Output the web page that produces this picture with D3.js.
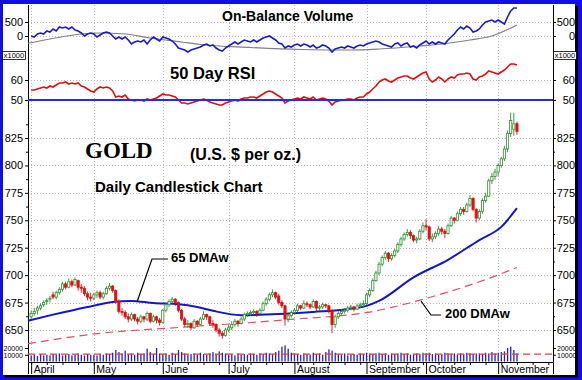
<!DOCTYPE html>
<html><head><meta charset="utf-8">
<script src="https://cdn.jsdelivr.net/npm/d3@7"></script>
<style>body{margin:0;background:#fff}svg{display:block}</style>
</head><body><svg id="c" width="582" height="380" font-family="Arial, 'Liberation Sans', sans-serif"></svg>
<script>
// ---------- DATA ----------
const months = ["April","May","June","July","August","September","October","November"];
const monthStart = [0,20,42,63,84,107,126,149];
const priceTicks = [650,675,700,725,750,775,800,825];
const obvTicks = [0,500];
const rsiTicks = [50,60];
const volTicks = [10,20];
// [open, high, low, close]
const ohlc = [
[662,668,660,665],[665,670,663,667],[668,672,664,670],[670,674,668,672],[673,677,671,675],
[676,679,673,677],[678,681,675,679],[682,685,678,680],[680,686,678,684],[684,689,682,687],
[687,694,685,692],[692,694,687,689],[689,697,688,694],[694,696,689,691],[691,698,690,696],
[695,696,686,689],[689,692,684,688],[688,690,681,683],[683,685,677,680],[680,684,676,679],
[679,684,677,682],[682,686,679,684],[684,686,678,680],[680,685,678,683],[683,690,682,688],
[688,693,686,690],[690,691,684,686],[686,687,674,676],[676,678,665,667],[667,670,663,666],
[666,668,660,662],[662,665,657,660],[660,666,658,664],[664,665,658,660],[660,662,655,658],
[658,664,656,662],[662,663,657,660],[660,667,658,665],[665,666,656,658],[658,664,657,662],
[662,663,656,659],[659,661,654,657],
[657,669,656,668],[668,675,666,673],[673,678,671,676],[676,680,674,678],[678,679,672,675],
[675,676,666,668],[668,669,658,660],[660,662,653,655],[655,659,652,656],[656,657,650,652],
[652,660,651,658],[658,659,653,655],[655,662,654,660],[660,667,659,664],[664,665,659,662],
[662,663,654,656],[656,659,652,655],[655,656,648,650],[650,652,644,647],[647,649,642,645],
[645,652,644,650],
[650,655,648,652],[652,658,650,655],[655,660,653,658],[658,659,653,656],[656,662,655,660],
[660,666,658,664],[664,667,662,665],[665,668,663,666],[666,669,664,667],[667,668,662,665],
[665,670,664,668],[668,676,667,674],[674,680,672,678],[678,684,676,682],[682,687,680,684],
[684,685,678,680],[681,683,673,675],[675,677,670,672],[672,673,654,660],[660,665,657,663],
[663,668,661,666],
[666,670,664,668],[668,674,666,672],[672,673,668,670],[670,677,669,674],[674,676,671,673],
[673,674,669,671],[671,678,670,676],[676,677,667,670],[670,673,668,671],[671,675,669,673],
[673,674,670,672],[672,673,665,668],[668,669,647,655],[655,664,652,662],[662,667,660,665],
[665,669,663,667],[667,670,665,668],[668,672,666,670],[670,673,668,671],[671,672,667,669],
[669,674,668,672],[672,675,670,673],[673,677,671,674],
[674,684,673,682],[682,688,680,686],[686,697,685,695],[695,704,694,702],[702,712,700,710],
[710,718,708,716],[716,722,714,720],[720,721,712,715],[715,720,713,718],[718,724,716,722],
[722,730,720,728],[728,735,726,733],[733,739,731,737],[737,742,735,739],[739,741,733,736],
[736,737,730,732],[732,735,729,733],[733,742,732,740],[740,748,738,745],
[745,751,741,744],[744,745,731,733],[733,738,730,735],[735,740,733,738],[738,745,736,742],
[742,744,737,740],[740,742,734,738],[738,747,737,745],[745,754,744,752],[752,753,747,750],
[750,758,749,756],[756,762,754,760],[760,762,755,758],[758,766,757,764],[764,773,762,770],
[770,771,758,760],[760,761,748,752],[752,760,750,758],[758,770,756,768],[768,775,766,772],
[772,788,771,786],[786,793,783,790],[790,797,787,794],
[794,802,790,800],[800,808,798,806],[806,818,804,815],[815,832,812,829],[829,848,826,841],
[833,848,827,838],[838,840,828,831]
];
// volume, thousands
const volume = [
9,10,8,11,9,10,9,11,10,12,9,10,11,9,10,12,10,9,11,10,
10,9,11,10,12,11,13,17,14,12,16,11,12,10,13,11,12,19,14,11,20,12,
11,12,10,13,11,17,14,12,10,11,12,10,13,11,10,12,14,11,15,13,12,
10,11,9,12,10,11,10,12,11,10,12,11,13,12,11,14,16,22,24,19,13,
12,11,10,12,11,10,13,11,12,10,14,18,16,13,11,10,12,9,10,11,10,12,11,
13,12,11,12,13,11,12,10,12,11,12,13,11,12,10,11,12,11,13,
12,13,11,12,10,11,13,12,11,12,10,12,11,13,12,11,12,12,11,13,12,14,12,
13,14,15,20,22,17,12
];
const volAvg = 11;
// On-balance volume, thousands
const obv = [
0,-36,71,107,71,179,143,250,179,321,286,321,250,321,214,179,107,0,71,107,
71,-36,36,107,143,107,0,-107,-36,-107,-36,-143,-286,-214,-179,-214,-143,-286,-143,-36,-107,-179,
-36,-71,-107,-179,-286,-429,-464,-500,-571,-500,-464,-429,-393,-321,-286,-357,-321,-429,-500,-536,-429,
-357,-286,-214,-286,-214,-143,-179,-214,-143,-214,-143,-71,-36,0,-71,-143,-250,-286,-429,-357,-393,
-321,-286,-357,-286,-321,-393,-321,-429,-393,-321,-357,-429,-571,-464,-429,-393,-429,-357,-393,-429,-357,-321,-357,
-286,-250,-214,-179,-214,-286,-321,-357,-393,-286,-250,-357,-286,-250,-393,-357,-429,-321,-250,
-179,-286,-214,-286,-214,-250,-286,-143,-36,71,214,321,250,357,286,143,179,250,393,500,536,571,500,
571,500,429,679,893,1000,1000
];
const obvAvgDays = [-1,6,16,22,30,38,48,54,70,86,102,111,124,131,140,147,155];
const obvAvg = [-260,-107,71,107,71,-71,-214,-304,-411,-482,-500,-464,-357,-286,-143,0,393];
// 50-day RSI
const rsi = [
55,55,55.5,56,56.5,56,57,56.5,57.5,58.5,58.5,59,58,58.5,58,58.5,57,56.5,55.5,54.5,
54,55.5,56.5,56,56.5,56,54.5,51.5,52,51.5,52.5,50.5,50,49.5,50,50,49.5,50.5,50,50.5,51,52,
53,52.5,52.5,52,51.5,50,48.5,48.5,48,48.5,49,49.5,50,50.5,50,49,48.5,48,47.5,47.5,48.5,
49,49.5,50,49.5,50.5,51,51,51.5,51.5,51,52,53,54,54.5,54,53,52,51,48.5,49.5,50,
50.5,51,50.5,51.5,51,50.5,51.5,50,50.5,51,50.5,49.5,47.5,49,49.5,50,50,50.5,50.5,50,51,51.5,51.5,
53,54,55.5,57,59,60,60.5,59.5,59,60,61,61.5,62,62,61,60.5,61.5,62.5,63.5,
64,60.5,59,60,61.5,60.5,59,60.5,61.5,61,62.5,63,63,63.5,63,60.5,60,61.5,62,63,64.5,64,63.5,
63,64,65,66.5,68,68,67.5
];
const dma65Days = [-1,7,18,26,32,39,47,53,58,67,79,90,101,107,111,122,133,143,150,155];
const dma65 = [658.5,664,671,675.5,676.5,674.5,673.5,671,667.5,663.5,664.5,666.5,669,672,676.5,698,714,732,744,761];
const dma200Days = [-1,22,48,80,111,125,146,155];
const dma200 = [637.5,647,652.5,659,668,678,697,707];

// ---------- CHART ----------
const SANS = "Arial, 'Liberation Sans', sans-serif";
const SERIF = "'Times New Roman', 'Liberation Serif', serif";
const svg = d3.select("#c");
const BLUE = "#1010e6";
svg.append("rect").attr("width",582).attr("height",380).attr("fill",BLUE);
svg.append("rect").attr("x",5).attr("y",6).attr("width",573).attr("height",371.5).attr("fill","#000");
svg.append("rect").attr("x",3).attr("y",4).attr("width",572).attr("height",371).attr("fill","#fff");

const X0 = 28, X1 = 553;
const x = d3.scaleLinear().domain([-1,166.5]).range([X0,X1]);
const yP = d3.scaleLinear().domain([650,825]).range([330,138]);
const yObv = d3.scaleLinear().domain([0,500]).range([36,22]);
const yRsi = d3.scaleLinear().domain([50,60]).range([100,80]);
const yVol = d3.scaleLinear().domain([0,20]).range([361.5,348]);

const grid = svg.append("g").attr("stroke","#b8b8b8").attr("stroke-dasharray","1,2").attr("stroke-width",1);
monthStart.forEach(d=>grid.append("line").attr("x1",Math.round(x(d))+0.5).attr("x2",Math.round(x(d))+0.5).attr("y1",5).attr("y2",362));
const hl = (y)=>grid.append("line").attr("x1",X0).attr("x2",X1).attr("y1",Math.round(y)+0.5).attr("y2",Math.round(y)+0.5);
priceTicks.forEach(d=>hl(yP(d)));
obvTicks.forEach(d=>hl(yObv(d)));
hl(yRsi(60));

const axisStyle = g=>{g.attr("font-family",SANS);g.selectAll("text").attr("font-size",11).attr("fill","#000");g.selectAll("line").attr("stroke","#000");g.select(".domain").remove();};
function leftAxis(scale, vals, fmt){
  const g = svg.append("g").attr("transform",`translate(${X0},0)`).call(d3.axisLeft(scale).tickValues(vals).tickSize(3).tickPadding(2).tickFormat(fmt||(d=>d)));
  axisStyle(g); return g;
}
function rightAxis(scale, vals, fmt){
  const g = svg.append("g").attr("transform",`translate(${X1},0)`).call(d3.axisRight(scale).tickValues(vals).tickSize(3).tickPadding(2).tickFormat(fmt||(d=>d)));
  axisStyle(g); g.selectAll("text").attr("text-anchor","end").attr("x",22); return g;
}
leftAxis(yP, priceTicks); rightAxis(yP, priceTicks);
leftAxis(yObv, obvTicks); rightAxis(yObv, obvTicks);
leftAxis(yRsi, rsiTicks); rightAxis(yRsi, rsiTicks);
leftAxis(yVol, volTicks, d=>d*1000).selectAll("text").attr("font-size",7);
rightAxis(yVol, volTicks, d=>d*1000).selectAll("text").attr("font-size",7).attr("text-anchor","start").attr("x",4);
const minor = d3.range(662.5,860,25);
[[X0,d3.axisLeft],[X1,d3.axisRight]].forEach(([tx,ax])=>{
  const g=svg.append("g").attr("transform",`translate(${tx},0)`).call(ax(yP).tickValues(minor).tickSize(2).tickFormat(""));
  g.select(".domain").remove(); g.selectAll("line").attr("stroke","#000");
});
svg.append("line").attr("x1",X0+0.5).attr("x2",X0+0.5).attr("y1",5).attr("y2",362).attr("stroke","#000");
svg.append("line").attr("x1",X1+0.5).attr("x2",X1+0.5).attr("y1",5).attr("y2",362).attr("stroke","#000");

// x-axis
const xa = svg.append("g").attr("transform","translate(0,362)")
  .call(d3.axisBottom(x).tickValues(monthStart).tickSize(12).tickPadding(0).tickFormat((d,i)=>months[i]));
xa.attr("font-family",SANS);
xa.select(".domain").attr("stroke","#000");
xa.selectAll("line").attr("stroke","#000");
xa.selectAll("text").attr("text-anchor","start").attr("x",2).attr("y",3.5).attr("font-size",10.5).attr("fill","#000");
const xm = svg.append("g").attr("transform","translate(0,362)")
  .call(d3.axisBottom(x).tickValues(d3.range(0,167,5)).tickSize(3).tickFormat(""));
xm.select(".domain").remove(); xm.selectAll("line").attr("stroke","#000");

// OBV panel
svg.append("path").datum(obvAvg).attr("fill","none").attr("stroke","#808080").attr("stroke-width",1.2)
  .attr("d",d3.line().x((d,i)=>x(obvAvgDays[i])).y(d=>yObv(d)).curve(d3.curveMonotoneX));
svg.append("path").datum(obv).attr("fill","none").attr("stroke","#1a1ad0").attr("stroke-width",1.6)
  .attr("d",d3.line().x((d,i)=>x(i)).y(d=>yObv(d)));

// RSI panel
svg.append("path").datum(rsi).attr("fill","none").attr("stroke","#e01010").attr("stroke-width",1.6)
  .attr("d",d3.line().x((d,i)=>x(i)).y(d=>yRsi(d)));
svg.append("line").attr("x1",X0).attr("x2",X1).attr("y1",yRsi(50)).attr("y2",yRsi(50)).attr("stroke","#2a2ae0").attr("stroke-width",2);

// x1000 boxes
[2,553].forEach(bx=>{
  svg.append("rect").attr("x",bx+0.5).attr("y",51.5).attr("width",23).attr("height",8).attr("fill","#fff").attr("stroke","#000").attr("stroke-width",0.8);
  svg.append("text").attr("x",bx+12).attr("y",58.3).attr("text-anchor","middle").attr("font-size",7.5).attr("font-family",SANS).text("x1000");
});

// volume
svg.append("g").selectAll("rect").data(volume).join("rect")
  .attr("x",(d,i)=>x(i)-0.6).attr("width",1.3).attr("y",d=>yVol(d)).attr("height",d=>yVol(0)-yVol(d)).attr("fill","#2222cc");
svg.append("line").attr("x1",X0).attr("x2",X1).attr("y1",yVol(volAvg)).attr("y2",yVol(volAvg))
  .attr("stroke","#e04040").attr("stroke-width",1.2).attr("stroke-dasharray","7,4");

// moving averages
svg.append("path").datum(dma200).attr("fill","none").attr("stroke","#e05060").attr("stroke-width",1.2).attr("stroke-dasharray","8,5")
  .attr("d",d3.line().x((d,i)=>x(dma200Days[i])).y(d=>yP(d)).curve(d3.curveMonotoneX));
svg.append("path").datum(dma65).attr("fill","none").attr("stroke","#1515cc").attr("stroke-width",2)
  .attr("d",d3.line().x((d,i)=>x(dma65Days[i])).y(d=>yP(d)).curve(d3.curveMonotoneX));

// candles
const GREEN = "#2f8f2f", RED = "#e01010";
const cg = svg.append("g");
ohlc.forEach((d,i)=>{
  const [o,h,l,c] = d, up = c>=o, col = up?GREEN:RED, cx = x(i);
  cg.append("line").attr("x1",cx).attr("x2",cx).attr("y1",yP(h)).attr("y2",yP(l)).attr("stroke",col).attr("stroke-width",0.9);
  const top = yP(Math.max(o,c)), bot = yP(Math.min(o,c));
  cg.append("rect").attr("x",cx-1.1).attr("width",2.2).attr("y",top).attr("height",Math.max(1,bot-top))
    .attr("fill",up?"#fff":RED).attr("stroke",col).attr("stroke-width",0.8);
});

// labels
const lab = (t,xx,yy,fs,fam)=>svg.append("text").attr("x",xx).attr("y",yy).attr("font-size",fs).attr("font-weight","bold")
  .attr("font-family",fam||SANS).attr("fill","#000").text(t);
lab("On-Balance Volume",222,21,14);
lab("50 Day RSI",170,79,16.5);
lab("GOLD",85,158,23,SERIF);
lab("(U.S. $ per oz.)",190,160,16);
lab("Daily Candlestick Chart",95,192,15);
lab("65 DMAw",171,262,13);
lab("200 DMAw",445,317.5,13);
svg.append("polyline").attr("points","168,259 152,259 137,302").attr("fill","none").attr("stroke","#000").attr("stroke-width",1.2);
svg.append("polyline").attr("points","421,301 431,315 441,315").attr("fill","none").attr("stroke","#000").attr("stroke-width",1.2);
</script></body></html>
